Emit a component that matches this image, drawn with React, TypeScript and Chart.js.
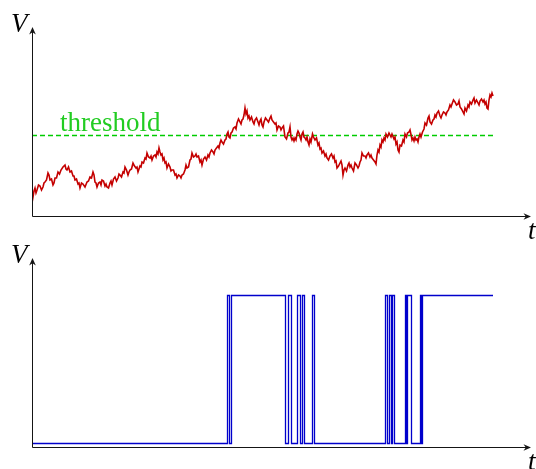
import React, { useEffect, useRef } from "react";
import { Chart, registerables } from "chart.js";

Chart.register(...registerables);

// ---------- data: red signal as [t, V] pairs ----------
const redSeries: [number, number][] = [
  [0, 26], [1, 19], [2, 25], [3, 28], [4, 23], [5, 26], [6.5, 31], [8, 30], [9.5, 26], [11, 29],
  [12, 33], [13, 34], [14.5, 36], [16, 43], [17, 41], [18, 36], [19.5, 37], [21, 31], [22, 33], [23, 38],
  [24.5, 38], [26, 44], [27.5, 42], [29, 46], [31, 49], [33, 51], [34, 47], [35, 46], [36.5, 49], [38, 44],
  [39.5, 45], [41, 40], [42, 40], [43, 36], [44.5, 37], [46, 32], [47, 33], [48, 28], [49.5, 33], [51, 32],
  [53, 29], [55, 34], [56.5, 35], [58, 39], [59.5, 38], [61, 44], [62, 41], [63, 34], [64, 33], [65, 29],
  [66.5, 33], [68, 34], [69, 31], [70, 36], [71.5, 35], [73, 30], [74, 32], [75, 29], [76.5, 28], [78, 33],
  [79, 35], [80, 31], [81.5, 37], [83, 39], [84.5, 35], [86, 38], [87, 42], [88, 41], [89.5, 39], [91, 44],
  [92, 43], [93, 49], [94.5, 46], [96, 41], [97, 44], [98, 46], [99.5, 47], [101, 53], [102.5, 50], [104, 48],
  [105, 49], [106, 44], [107, 47], [108, 50], [109, 49], [110, 54], [111.5, 53], [113, 58], [114, 57], [115, 63],
  [116.5, 59], [118, 58], [119, 60], [120, 56], [121.5, 60], [123, 61], [124, 59], [125, 64], [126, 62], [127, 68],
  [128, 64], [129, 61], [130, 62], [131, 56], [132, 58], [133, 53], [134, 54], [135, 48], [136.5, 52], [138, 49],
  [139, 45], [140, 46], [141.5, 46], [143, 41], [144, 42], [145, 38], [146.5, 41], [148, 40], [149, 38], [150, 41],
  [151.5, 42], [153, 46], [154, 51], [155, 48], [156.5, 49], [158, 56], [159, 57], [160, 63], [161.5, 59], [163, 60],
  [164, 62], [165, 59], [166.5, 60], [168, 54], [169, 56], [170, 51], [171.5, 57], [173, 59], [174.5, 56], [176, 61],
  [177, 59], [178, 63], [179.5, 66], [181, 64], [182, 62], [183, 66], [184.5, 68], [186, 70], [187, 68], [188, 73],
  [189, 76], [190, 74], [191.5, 72], [193, 76], [194, 77], [195, 82], [196, 84], [197, 79], [198, 78], [199, 83],
  [200, 84], [201.5, 88], [203, 89], [204, 87], [205, 93], [206.5, 97], [208, 94], [209, 92], [210, 96], [211, 97],
  [212, 101], [213, 108], [214, 102], [215, 105], [216, 98], [217, 100], [218, 96], [219.5, 99], [221, 94], [222, 92],
  [223, 96], [224.5, 98], [226, 94], [227, 91], [228, 95], [229, 97], [230, 91], [231, 89], [232, 94], [233.5, 98],
  [235, 96], [236.5, 94], [238, 98], [239, 100], [240, 96], [241.5, 94], [243, 92], [244, 93], [245, 86], [246.5, 90],
  [248, 89], [249, 86], [250, 88], [251.5, 90], [253, 79], [254.5, 77], [256, 83], [257, 84], [258, 89], [259, 79],
  [260, 76], [261, 78], [262, 75], [263, 78], [264, 76], [265, 82], [266, 85], [267, 83], [268, 79], [269, 76],
  [270, 82], [271, 84], [272, 79], [273, 78], [274, 76], [275, 79], [276, 74], [277, 71], [278, 77], [279, 74],
  [280.5, 82], [281.5, 79], [283, 76], [284.5, 78], [286, 71], [287, 73], [288, 67], [289, 68], [290, 63], [291.5, 65],
  [293, 60], [294, 62], [295, 58], [296.5, 56], [298, 60], [299.5, 62], [301, 58], [302, 60], [303, 54], [304, 55],
  [305, 48], [306.5, 50], [308, 53], [309, 55], [310, 51], [311, 41], [312, 46], [313, 48], [314.5, 45], [316, 51],
  [317, 53], [318, 49], [319, 51], [320, 48], [321.5, 45], [323, 53], [324.5, 51], [326, 48], [327, 50], [328, 54],
  [329, 56], [330, 63], [331.5, 60], [333, 60], [334, 58], [335, 61], [336.5, 63], [338, 59], [339, 61], [340, 58],
  [341.5, 56], [343, 54], [344, 52], [345, 61], [346, 66], [347, 64], [348, 71], [349, 69], [350, 76], [351, 74],
  [352, 78], [353, 76], [354, 82], [355.5, 79], [357, 83], [359, 79], [360, 82], [362, 77], [363, 79], [364, 72],
  [365, 74], [366, 66], [367, 64], [368, 71], [369.5, 70], [371, 76], [372, 74], [373, 82], [374.5, 79], [375.5, 83],
  [377, 84], [378, 86], [379.5, 79], [380, 76], [381, 78], [382, 75], [383, 79], [384, 76], [385, 77], [386, 74],
  [387, 79], [388, 82], [389, 79], [390.5, 84], [392, 87], [393, 93], [394.5, 91], [396, 98], [397, 100], [398, 94],
  [399.5, 92], [401, 96], [402, 97], [403, 101], [404, 99], [405, 103], [406.5, 105], [408, 100], [409, 98], [410, 101],
  [411.5, 104], [413, 103], [414, 101], [415, 104], [416.5, 106], [418, 111], [419, 109], [420, 112], [421.5, 116], [423, 114],
  [424.5, 111], [426, 112], [427, 115], [428, 109], [429.5, 107], [431, 104], [432, 102], [433, 108], [434.5, 105], [436, 111],
  [437, 109], [438, 114], [439.5, 112], [441, 116], [442, 118], [443, 113], [444.5, 116], [446, 113], [447, 111], [448, 115],
  [449.5, 117], [451, 114], [452, 116], [453, 112], [454, 114], [455, 108], [456, 107], [457, 116], [458, 121], [459, 119],
  [460, 123], [461, 120],
];

const thresholdV = 80.5;
const thresholdT = [0, 461];
const thresholdLabel = "threshold";
const thresholdLabelT = 28;

// ---------- data: blue comparator output (level switches at each t) ----------
const blueT = [
  0, 195.5, 197.5, 199.5, 253.5, 256.5, 259.5, 265.5, 268.5, 270.5, 272.5, 280.5, 282.5, 353.5, 355.5, 357.5, 359.5, 360.5,
  362.5, 373.5, 374.5, 375.5, 379.5, 388.5, 389.5, 390.5, 461,
];
const blueLevel = [
  0, 1, 0, 1, 0, 1, 0, 1, 0, 1, 0, 1, 0, 1, 0, 1, 0, 1, 0, 1, 0, 1, 0, 1, 0, 1, 1,
];

const yLabel = "V";
const xLabel = "t";

// ---------- styling ----------
const SERIF = "'Liberation Serif', 'Times New Roman', serif";
const RED = "#c40000";
const GREEN = "#00cc00";
const TEXT_GREEN = "#22cc22";
const BLUE = "#0000cc";
const AXIS = "#151515";

function drawArrow(ctx: CanvasRenderingContext2D, tx: number, ty: number, dx: number, dy: number) {
  const len = 7.5;
  const hw = 3.3;
  const notch = 5.2;
  const px = -dy;
  const py = dx;
  ctx.beginPath();
  ctx.moveTo(tx, ty);
  ctx.lineTo(tx - dx * len + px * hw, ty - dy * len + py * hw);
  ctx.lineTo(tx - dx * notch, ty - dy * notch);
  ctx.lineTo(tx - dx * len - px * hw, ty - dy * len - py * hw);
  ctx.closePath();
  ctx.fill();
}

function axesPlugin(id: string) {
  return {
    id,
    afterDatasetsDraw(chart: any) {
      const { ctx, chartArea } = chart;
      const { left, right, top, bottom } = chartArea;
      const ax = left + 0.5;
      const ay = bottom - 0.5;
      ctx.save();
      ctx.strokeStyle = AXIS;
      ctx.fillStyle = AXIS;
      ctx.lineWidth = 1;
      ctx.beginPath();
      ctx.moveTo(ax, ay);
      ctx.lineTo(right - 5, ay);
      ctx.moveTo(ax, ay);
      ctx.lineTo(ax, top + 5);
      ctx.stroke();
      drawArrow(ctx, right, ay, 1, 0);
      drawArrow(ctx, ax, top, 0, -1);
      ctx.fillStyle = "#000";
      ctx.font = `italic 27px ${SERIF}`;
      ctx.textAlign = "left";
      ctx.textBaseline = "alphabetic";
      ctx.fillText(yLabel, left - 21, top + 5);
      ctx.fillText(xLabel, right - 3, bottom + 21.5);
      ctx.restore();
    },
  };
}

const thresholdPlugin = {
  id: "thresholdDraw",
  beforeDatasetsDraw(chart: any) {
    const { ctx, scales } = chart;
    const x0 = scales.x.getPixelForValue(thresholdT[0]);
    const x1 = scales.x.getPixelForValue(thresholdT[1]);
    const y = scales.y.getPixelForValue(thresholdV);
    ctx.save();
    ctx.strokeStyle = GREEN;
    ctx.lineWidth = 1.4;
    ctx.setLineDash([5, 3]);
    ctx.beginPath();
    ctx.moveTo(x0, y);
    ctx.lineTo(x1, y);
    ctx.stroke();
    ctx.restore();
  },
  afterDatasetsDraw(chart: any) {
    const { ctx, scales } = chart;
    const x = scales.x.getPixelForValue(thresholdLabelT);
    const y = scales.y.getPixelForValue(thresholdV);
    ctx.save();
    ctx.fillStyle = TEXT_GREEN;
    ctx.font = `27px ${SERIF}`;
    ctx.textAlign = "left";
    ctx.textBaseline = "alphabetic";
    ctx.fillText(thresholdLabel, x, y - 4.5);
    ctx.restore();
  },
};

export default function App() {
  const topRef = useRef<HTMLCanvasElement | null>(null);
  const botRef = useRef<HTMLCanvasElement | null>(null);

  useEffect(() => {
    if (!topRef.current || !botRef.current) return;

    const top = new Chart(topRef.current, {
      type: "line",
      data: {
        datasets: [
          {
            data: redSeries.map(([t, v]) => ({ x: t, y: v })),
            borderColor: RED,
            borderWidth: 1.6,
            pointRadius: 0,
            tension: 0,
            fill: false,
          },
        ],
      },
      options: {
        animation: false,
        responsive: false,
        maintainAspectRatio: false,
        events: [],
        layout: { padding: { left: 32, right: 5, top: 27, bottom: 33 } },
        plugins: { legend: { display: false }, tooltip: { enabled: false } },
        scales: {
          x: { type: "linear", display: false, min: 0, max: 499 },
          y: { type: "linear", display: false, min: -1, max: 189 },
        },
      },
      plugins: [thresholdPlugin, axesPlugin("axesTop")],
    } as any);

    const bot = new Chart(botRef.current, {
      type: "line",
      data: {
        datasets: [
          {
            data: blueT.map((t, i) => ({ x: t, y: blueLevel[i] })),
            borderColor: BLUE,
            borderWidth: 1.3,
            pointRadius: 0,
            stepped: true,
            fill: false,
          },
        ],
      },
      options: {
        animation: false,
        responsive: false,
        maintainAspectRatio: false,
        events: [],
        layout: { padding: { left: 32, right: 5, top: 28, bottom: 21 } },
        plugins: { legend: { display: false }, tooltip: { enabled: false } },
        scales: {
          x: { type: "linear", display: false, min: 0, max: 499 },
          y: { type: "linear", display: false, min: -0.0304, max: 1.2534 },
        },
      },
      plugins: [axesPlugin("axesBottom")],
    } as any);

    return () => {
      top.destroy();
      bot.destroy();
    };
  }, []);

  return (
    <div style={{ position: "absolute", left: 0, top: 0, width: 536, height: 469, overflow: "hidden", background: "#fff" }}>
      <canvas ref={topRef} width={536} height={250} style={{ position: "absolute", left: 0, top: 0, width: 536, height: 250 }} />
      <canvas ref={botRef} width={536} height={239} style={{ position: "absolute", left: 0, top: 230, width: 536, height: 239 }} />
    </div>
  );
}
